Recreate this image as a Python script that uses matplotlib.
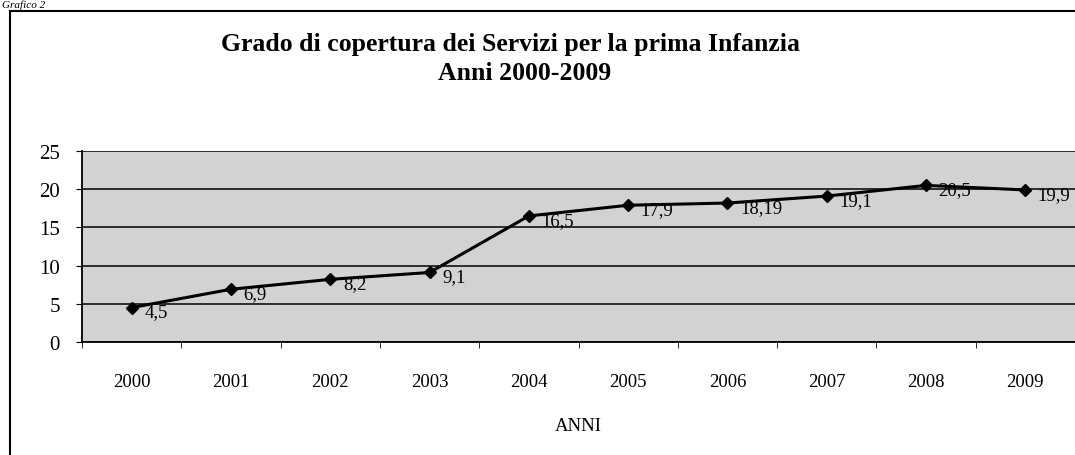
import matplotlib.pyplot as plt
from matplotlib.patches import Rectangle
import numpy as np

anni = ["2000", "2001", "2002", "2003", "2004", "2005", "2006", "2007", "2008", "2009"]
copertura = [4.5, 6.9, 8.2, 9.1, 16.5, 17.9, 18.19, 19.1, 20.5, 19.9]
etichette = ["4,5", "6,9", "8,2", "9,1", "16,5", "17,9", "18,19", "19,1", "20,5", "19,9"]
y_ticks = [0, 5, 10, 15, 20, 25]

plt.rcParams['font.family'] = ['Liberation Serif', 'DejaVu Serif']

fig = plt.figure(figsize=(10.75, 4.56), dpi=100)

# cornice esterna del grafico
fig.patches.append(Rectangle((10 / 1075, -0.02), 1.1, 1 - 12 / 456 + 0.02,
                             transform=fig.transFigure, fill=False,
                             edgecolor='black', linewidth=1.5))
fig.text(0.002, 0.999, "Grafico 2", fontsize=8, style='italic', va='top', ha='left')

ax = fig.add_axes([82 / 1075, 1 - 343 / 456, (1075 - 82) / 1075, (343 - 152) / 456])
x = np.arange(len(anni))
ax.set_facecolor('#d2d2d2')
ax.plot(x, copertura, color='black', linewidth=2.2, marker='D', markersize=6.5, zorder=3)
for xi, yi, lab in zip(x, copertura, etichette):
    ax.annotate(lab, (xi, yi), xytext=(9, -3), textcoords='offset points',
                va='center', ha='left', fontsize=13.5, zorder=4, annotation_clip=False)

ax.set_xlim(-0.5, 9.5)
ax.set_ylim(0, 25)
ax.set_yticks(y_ticks)
ax.set_yticklabels([str(v) for v in y_ticks], fontsize=15)
ax.set_xticks(x)
ax.set_xticklabels(anni, fontsize=13.5)
ax.set_xticks(np.arange(-0.5, 10, 1), minor=True)
ax.tick_params(axis='x', which='major', length=0, pad=22)
ax.tick_params(axis='x', which='minor', length=4)
ax.tick_params(axis='y', length=4, pad=12)
ax.yaxis.grid(True, color='black', linewidth=1.1)
ax.set_axisbelow(True)
for s in ['top', 'right']:
    ax.spines[s].set_visible(False)
ax.spines['left'].set_linewidth(1.3)
ax.spines['bottom'].set_linewidth(1.3)

ax.set_xlabel("ANNI", fontsize=13.5, labelpad=20)
fig.text(0.475, 1 - 45 / 456, "Grado di copertura dei Servizi per la prima Infanzia",
         ha='center', va='center', fontsize=18.5, fontweight='bold')
fig.text(0.488, 1 - 73 / 456, "Anni 2000-2009", ha='center', va='center',
         fontsize=18.5, fontweight='bold')

plt.savefig("out.png", dpi=100)
